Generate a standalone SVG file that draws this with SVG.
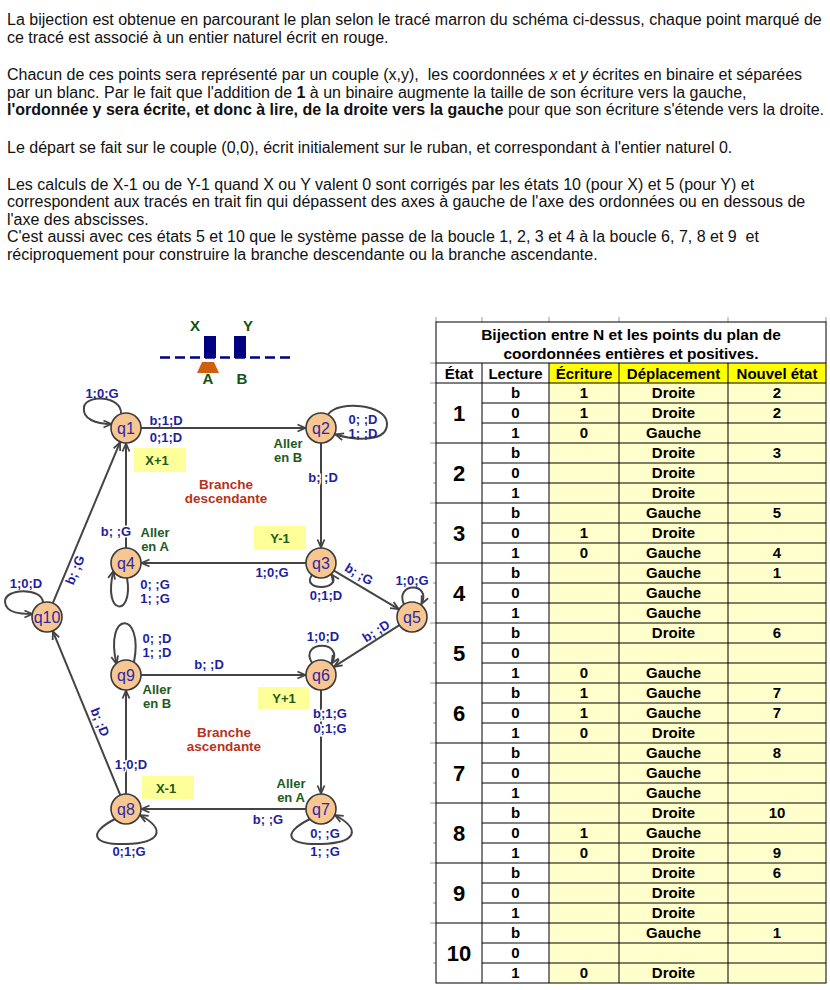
<svg xmlns="http://www.w3.org/2000/svg" width="830" height="990" viewBox="0 0 830 990">
<defs>
<style>
.t{font-family:"Liberation Sans",Arial,sans-serif;font-size:16px;fill:#111}
.b{font-weight:bold}
.nd circle{fill:#F8C690;stroke:#3a3a3a;stroke-width:1.6}
.nd text{font-family:"Liberation Sans",Arial,sans-serif;font-size:16px;fill:#2a2aa8;text-anchor:middle}
.e{fill:none;stroke:#444;stroke-width:2;marker-end:url(#ah)}
.l{font-family:"Liberation Sans",Arial,sans-serif;font-size:13px;font-weight:bold;fill:#1e1ea0;text-anchor:middle}
.h{stroke:#fff;stroke-width:3;paint-order:stroke}
.g{font-family:"Liberation Sans",Arial,sans-serif;font-size:13px;font-weight:bold;fill:#1e5a1e;text-anchor:middle}
.r{font-family:"Liberation Sans",Arial,sans-serif;font-size:13.5px;font-weight:bold;fill:#b8321e;text-anchor:middle}
.yb{fill:#FFFF99}
.tp{font-family:"Liberation Sans",Arial,sans-serif;font-size:15px;font-weight:bold;fill:#145214;text-anchor:middle}
.tb{font-family:"Liberation Sans",Arial,sans-serif;font-size:15px;font-weight:bold;fill:#000;text-anchor:middle}
.tn{font-size:22px}
.gl{stroke:#000;stroke-width:1;fill:none}
.tk{stroke:#999;stroke-width:1}
</style>
<marker id="ah" viewBox="0 0 10 10" refX="9" refY="5" markerWidth="10" markerHeight="10" markerUnits="userSpaceOnUse" orient="auto"><path d="M1,1.5 L9,5 L1,8.5" fill="none" stroke="#444" stroke-width="1.8"/></marker>
</defs>
<rect x="0" y="0" width="830" height="990" fill="#fff"/>

<g id="intro">
<text class="t" x="7" y="24.5">La bijection est obtenue en parcourant le plan selon le tracé marron du schéma ci-dessus, chaque point marqué de</text>
<text class="t" x="7" y="42.5">ce tracé est associé à un entier naturel écrit en rouge.</text>
<text class="t" x="7" y="80">Chacun de ces points sera représenté par un couple (x,y),&#160; les coordonnées <tspan font-style="italic">x</tspan> et <tspan font-style="italic">y</tspan> écrites en binaire et séparées</text>
<text class="t" x="7" y="97.5">par un blanc. Par le fait que l'addition de <tspan class="b">1</tspan> à un binaire augmente la taille de son écriture vers la gauche,</text>
<text class="t" x="7" y="114.5"><tspan class="b">l'ordonnée y sera écrite, et donc à lire, de la droite vers la gauche</tspan> pour que son écriture s'étende vers la droite.</text>
<text class="t" x="7" y="153">Le départ se fait sur le couple (0,0), écrit initialement sur le ruban, et correspondant à l'entier naturel 0.</text>
<text class="t" x="7" y="189.5">Les calculs de X-1 ou de Y-1 quand X ou Y valent 0 sont corrigés par les états 10 (pour X) et 5 (pour Y) et</text>
<text class="t" x="7" y="207">correspondent aux tracés en trait fin qui dépassent des axes à gauche de l'axe des ordonnées ou en dessous de</text>
<text class="t" x="7" y="224.5">l'axe des abscisses.</text>
<text class="t" x="7" y="242">C'est aussi avec ces états 5 et 10 que le système passe de la boucle 1, 2, 3 et 4 à la boucle 6, 7, 8 et 9&#160; et</text>
<text class="t" x="7" y="259.5">réciproquement pour construire la branche descendante ou la branche ascendante.</text>
</g>

<g id="tape">
<line x1="160" y1="357.5" x2="290" y2="357.5" stroke="#000080" stroke-width="2.5" stroke-dasharray="10 5"/>
<rect x="204" y="336" width="12" height="22" fill="#000080"/>
<rect x="234" y="336" width="12" height="22" fill="#000080"/>
<polygon points="202,362 214,362 219,373 197,373" fill="#CC6010"/>
<text class="tp" x="195" y="330.5">X</text>
<text class="tp" x="248" y="330.5">Y</text>
<text class="tp" x="208" y="383.5">A</text>
<text class="tp" x="242" y="383.5">B</text>
</g>

<g id="notes">
<rect class="yb" x="134" y="448" width="52" height="24"/>
<rect class="yb" x="254" y="526" width="52" height="24"/>
<rect class="yb" x="258" y="687" width="51" height="22"/>
<rect class="yb" x="142" y="776" width="52" height="23"/>
<text class="g" x="157" y="464.5">X+1</text>
<text class="g" x="280" y="542.5">Y-1</text>
<text class="g" x="284" y="702.5">Y+1</text>
<text class="g" x="166" y="792.5">X-1</text>
<text class="g" x="288" y="447.5">Aller</text>
<text class="g" x="288" y="461.5">en B</text>
<text class="g" x="155" y="536.5">Aller</text>
<text class="g" x="155" y="550.5">en A</text>
<text class="g" x="157" y="693.5">Aller</text>
<text class="g" x="157" y="707.5">en B</text>
<text class="g" x="291" y="787.5">Aller</text>
<text class="g" x="291" y="801.5">en A</text>
<text class="r" x="226" y="488.5">Branche</text>
<text class="r" x="226" y="502.5">descendante</text>
<text class="r" x="224" y="736.5">Branche</text>
<text class="r" x="224" y="750.5">ascendante</text>
</g>

<g id="connectors">
<path class="e" d="M141,428 L305.5,428"/>
<path class="e" d="M321,443 L321,547.5"/>
<path class="e" d="M306,563 L141.5,563"/>
<path class="e" d="M126,548 L126,443.5"/>
<path class="e" d="M52.8,603.2 L120,442.3"/>
<path class="e" d="M333.9,570.7 L398.7,609.1"/>
<path class="e" d="M399.4,625.1 L334.1,666.7"/>
<path class="e" d="M141,675 L305.5,675"/>
<path class="e" d="M321,690 L321,793.5"/>
<path class="e" d="M306,809 L141.5,809"/>
<path class="e" d="M126,794 L126,690.5"/>
<path class="e" d="M120.3,795.1 L52.9,631.3"/>
<path class="e" d="M121,413.5 C122,396 86,394 84,407 C82,419 96,424 111.5,424"/>
<path class="e" d="M328,414.5 C338,400 386,404 387,423 C388,442 357,441 335.5,434.5"/>
<path class="e" d="M312,575 C300,591 343,591 331.5,574.5"/>
<path class="e" d="M127,578 C134,617 102,617 113.5,571"/>
<path class="e" d="M404,604.5 C394,582 432,582 421.5,604"/>
<path class="e" d="M312,663 C298,640 346,640 331.5,663.5"/>
<path class="e" d="M43,602.5 C42,587 4,588 5,602 C6,613 20,614 32.5,614"/>
<path class="e" d="M134,662 C144,610 104,610 116.5,664"/>
<path class="e" d="M310,819 C280,834 288,845 321,844 C356,843 362,830 335,815"/>
<path class="e" d="M115,819 C86,834 94,845 126,844 C160,843 167,830 140,815"/>
<text class="l" x="102" y="397.5">1;0;G</text>
<text class="l" x="166" y="424.5">b;1;D</text>
<text class="l" x="166" y="441.5">0;1;D</text>
<text class="l" x="363" y="423.5">0; ;D</text>
<text class="l" x="363" y="437.5">1; ;D</text>
<text class="l h" x="323" y="481.5">b; ;D</text>
<text class="l h" x="116" y="535.5">b; ;G</text>
<text class="l" x="272" y="576.5">1;0;G</text>
<text class="l" x="155" y="588.5">0; ;G</text>
<text class="l" x="155" y="602.5">1; ;G</text>
<text class="l" x="326" y="600">0;1;D</text>
<text class="l" transform="translate(359,574) rotate(30.7)" x="0" y="4.5">b; ;G</text>
<text class="l" x="412" y="584.5">1;0;G</text>
<text class="l" transform="translate(376,631) rotate(-32.5)" x="0" y="4.5">b; ;D</text>
<text class="l" x="26" y="587.5">1;0;D</text>
<text class="l" transform="translate(75,570) rotate(-67.3)" x="0" y="4.5">b; ;G</text>
<text class="l" x="157" y="642.5">0; ;D</text>
<text class="l" x="157" y="656.5">1; ;D</text>
<text class="l" x="323" y="640.5">1;0;D</text>
<text class="l" x="209" y="669">b; ;D</text>
<text class="l h" x="330" y="717.5">b;1;G</text>
<text class="l h" x="330" y="732.5">0;1;G</text>
<text class="l" transform="translate(100,722) rotate(67.6)" x="0" y="4.5">b; ;D</text>
<text class="l h" x="131" y="768.5">1;0;D</text>
<text class="l" x="268" y="823.5">b; ;G</text>
<text class="l" x="325" y="837.5">0; ;G</text>
<text class="l" x="325" y="855.5">1; ;G</text>
<text class="l" x="129" y="855.5">0;1;G</text>
</g>

<g id="q1" class="nd"><circle cx="126" cy="428" r="15"/><text x="126" y="433.5">q1</text></g>
<g id="q2" class="nd"><circle cx="321" cy="428" r="15"/><text x="321" y="433.5">q2</text></g>
<g id="q3" class="nd"><circle cx="321" cy="563" r="15"/><text x="321" y="568.5">q3</text></g>
<g id="q4" class="nd"><circle cx="126" cy="563" r="15"/><text x="126" y="568.5">q4</text></g>
<g id="q5" class="nd"><circle cx="412" cy="617" r="15"/><text x="412" y="622.5">q5</text></g>
<g id="q6" class="nd"><circle cx="321" cy="675" r="15"/><text x="321" y="680.5">q6</text></g>
<g id="q7" class="nd"><circle cx="321" cy="809" r="15"/><text x="321" y="814.5">q7</text></g>
<g id="q8" class="nd"><circle cx="126" cy="809" r="15"/><text x="126" y="814.5">q8</text></g>
<g id="q9" class="nd"><circle cx="126" cy="675" r="15"/><text x="126" y="680.5">q9</text></g>
<g id="q10" class="nd"><circle cx="47" cy="617" r="15"/><text x="47" y="622.5" font-size="15.5">q10</text></g>

<g id="table">
<rect x="436" y="322" width="390" height="661" fill="#fff"/>
<rect x="549" y="363" width="277" height="20" fill="#FFFF00"/>
<rect x="549" y="383" width="277" height="600" fill="#FFFFCC"/>
<g class="tk">
<line x1="436" y1="317" x2="436" y2="322"/><line x1="482" y1="317" x2="482" y2="322"/><line x1="549" y1="317" x2="549" y2="322"/><line x1="619" y1="317" x2="619" y2="322"/><line x1="728" y1="317" x2="728" y2="322"/><line x1="826" y1="317" x2="826" y2="322"/>
<line x1="430" y1="363" x2="436" y2="363"/><line x1="430" y1="383" x2="436" y2="383"/>
<line x1="430" y1="443" x2="436" y2="443"/><line x1="430" y1="503" x2="436" y2="503"/><line x1="430" y1="563" x2="436" y2="563"/><line x1="430" y1="623" x2="436" y2="623"/><line x1="430" y1="683" x2="436" y2="683"/><line x1="430" y1="743" x2="436" y2="743"/><line x1="430" y1="803" x2="436" y2="803"/><line x1="430" y1="863" x2="436" y2="863"/><line x1="430" y1="923" x2="436" y2="923"/>
<line x1="433" y1="403" x2="436" y2="403"/><line x1="433" y1="423" x2="436" y2="423"/><line x1="433" y1="463" x2="436" y2="463"/><line x1="433" y1="483" x2="436" y2="483"/><line x1="433" y1="523" x2="436" y2="523"/><line x1="433" y1="543" x2="436" y2="543"/><line x1="433" y1="583" x2="436" y2="583"/><line x1="433" y1="603" x2="436" y2="603"/><line x1="433" y1="643" x2="436" y2="643"/><line x1="433" y1="663" x2="436" y2="663"/><line x1="433" y1="703" x2="436" y2="703"/><line x1="433" y1="723" x2="436" y2="723"/><line x1="433" y1="763" x2="436" y2="763"/><line x1="433" y1="783" x2="436" y2="783"/><line x1="433" y1="823" x2="436" y2="823"/><line x1="433" y1="843" x2="436" y2="843"/><line x1="433" y1="883" x2="436" y2="883"/><line x1="433" y1="903" x2="436" y2="903"/><line x1="433" y1="943" x2="436" y2="943"/><line x1="433" y1="963" x2="436" y2="963"/>
</g>
<g class="gl">
<rect x="436" y="322" width="390" height="661"/>
<line x1="436" y1="363" x2="826" y2="363"/>
<line x1="436" y1="383" x2="826" y2="383"/>
<line x1="436" y1="443" x2="826" y2="443"/><line x1="436" y1="503" x2="826" y2="503"/><line x1="436" y1="563" x2="826" y2="563"/><line x1="436" y1="623" x2="826" y2="623"/><line x1="436" y1="683" x2="826" y2="683"/><line x1="436" y1="743" x2="826" y2="743"/><line x1="436" y1="803" x2="826" y2="803"/><line x1="436" y1="863" x2="826" y2="863"/><line x1="436" y1="923" x2="826" y2="923"/>
<line x1="482" y1="403" x2="826" y2="403"/><line x1="482" y1="423" x2="826" y2="423"/><line x1="482" y1="463" x2="826" y2="463"/><line x1="482" y1="483" x2="826" y2="483"/><line x1="482" y1="523" x2="826" y2="523"/><line x1="482" y1="543" x2="826" y2="543"/><line x1="482" y1="583" x2="826" y2="583"/><line x1="482" y1="603" x2="826" y2="603"/><line x1="482" y1="643" x2="826" y2="643"/><line x1="482" y1="663" x2="826" y2="663"/><line x1="482" y1="703" x2="826" y2="703"/><line x1="482" y1="723" x2="826" y2="723"/><line x1="482" y1="763" x2="826" y2="763"/><line x1="482" y1="783" x2="826" y2="783"/><line x1="482" y1="823" x2="826" y2="823"/><line x1="482" y1="843" x2="826" y2="843"/><line x1="482" y1="883" x2="826" y2="883"/><line x1="482" y1="903" x2="826" y2="903"/><line x1="482" y1="943" x2="826" y2="943"/><line x1="482" y1="963" x2="826" y2="963"/>
<line x1="482" y1="363" x2="482" y2="983"/><line x1="549" y1="363" x2="549" y2="983"/><line x1="619" y1="363" x2="619" y2="983"/><line x1="728" y1="363" x2="728" y2="983"/>
</g>
<g class="tb">
<text x="631" y="339.5" font-size="15.5">Bijection entre N et les points du plan de</text>
<text x="631" y="358.5" font-size="15.5">coordonnées entières et positives.</text>
<text x="459" y="378.5">État</text><text x="515.5" y="378.5">Lecture</text><text x="584" y="378.5">Écriture</text><text x="673.5" y="378.5">Déplacement</text><text x="777" y="378.5">Nouvel état</text>
</g>
<g class="tb tn">
<text x="459" y="421">1</text><text x="459" y="481">2</text><text x="459" y="541">3</text><text x="459" y="601">4</text><text x="459" y="661">5</text><text x="459" y="721">6</text><text x="459" y="781">7</text><text x="459" y="841">8</text><text x="459" y="901">9</text><text x="459" y="961">10</text>
</g>
<g class="tb">
<text x="515.5" y="398">b</text><text x="515.5" y="418">0</text><text x="515.5" y="438">1</text>
<text x="515.5" y="458">b</text><text x="515.5" y="478">0</text><text x="515.5" y="498">1</text>
<text x="515.5" y="518">b</text><text x="515.5" y="538">0</text><text x="515.5" y="558">1</text>
<text x="515.5" y="578">b</text><text x="515.5" y="598">0</text><text x="515.5" y="618">1</text>
<text x="515.5" y="638">b</text><text x="515.5" y="658">0</text><text x="515.5" y="678">1</text>
<text x="515.5" y="698">b</text><text x="515.5" y="718">0</text><text x="515.5" y="738">1</text>
<text x="515.5" y="758">b</text><text x="515.5" y="778">0</text><text x="515.5" y="798">1</text>
<text x="515.5" y="818">b</text><text x="515.5" y="838">0</text><text x="515.5" y="858">1</text>
<text x="515.5" y="878">b</text><text x="515.5" y="898">0</text><text x="515.5" y="918">1</text>
<text x="515.5" y="938">b</text><text x="515.5" y="958">0</text><text x="515.5" y="978">1</text>
</g>
<g class="tb">
<text x="584" y="398">1</text><text x="584" y="418">1</text><text x="584" y="438">0</text>
<text x="584" y="538">1</text><text x="584" y="558">0</text>
<text x="584" y="678">0</text>
<text x="584" y="698">1</text><text x="584" y="718">1</text><text x="584" y="738">0</text>
<text x="584" y="838">1</text><text x="584" y="858">0</text>
<text x="584" y="978">0</text>
</g>
<g class="tb">
<text x="673.5" y="398">Droite</text><text x="673.5" y="418">Droite</text><text x="673.5" y="438">Gauche</text>
<text x="673.5" y="458">Droite</text><text x="673.5" y="478">Droite</text><text x="673.5" y="498">Droite</text>
<text x="673.5" y="518">Gauche</text><text x="673.5" y="538">Droite</text><text x="673.5" y="558">Gauche</text>
<text x="673.5" y="578">Gauche</text><text x="673.5" y="598">Gauche</text><text x="673.5" y="618">Gauche</text>
<text x="673.5" y="638">Droite</text><text x="673.5" y="678">Gauche</text>
<text x="673.5" y="698">Gauche</text><text x="673.5" y="718">Gauche</text><text x="673.5" y="738">Droite</text>
<text x="673.5" y="758">Gauche</text><text x="673.5" y="778">Gauche</text><text x="673.5" y="798">Gauche</text>
<text x="673.5" y="818">Droite</text><text x="673.5" y="838">Gauche</text><text x="673.5" y="858">Droite</text>
<text x="673.5" y="878">Droite</text><text x="673.5" y="898">Droite</text><text x="673.5" y="918">Droite</text>
<text x="673.5" y="938">Gauche</text><text x="673.5" y="978">Droite</text>
</g>
<g class="tb">
<text x="777" y="398">2</text><text x="777" y="418">2</text>
<text x="777" y="458">3</text>
<text x="777" y="518">5</text><text x="777" y="558">4</text>
<text x="777" y="578">1</text>
<text x="777" y="638">6</text>
<text x="777" y="698">7</text><text x="777" y="718">7</text>
<text x="777" y="758">8</text>
<text x="777" y="818">10</text><text x="777" y="858">9</text>
<text x="777" y="878">6</text>
<text x="777" y="938">1</text>
</g>
</g>
</svg>
